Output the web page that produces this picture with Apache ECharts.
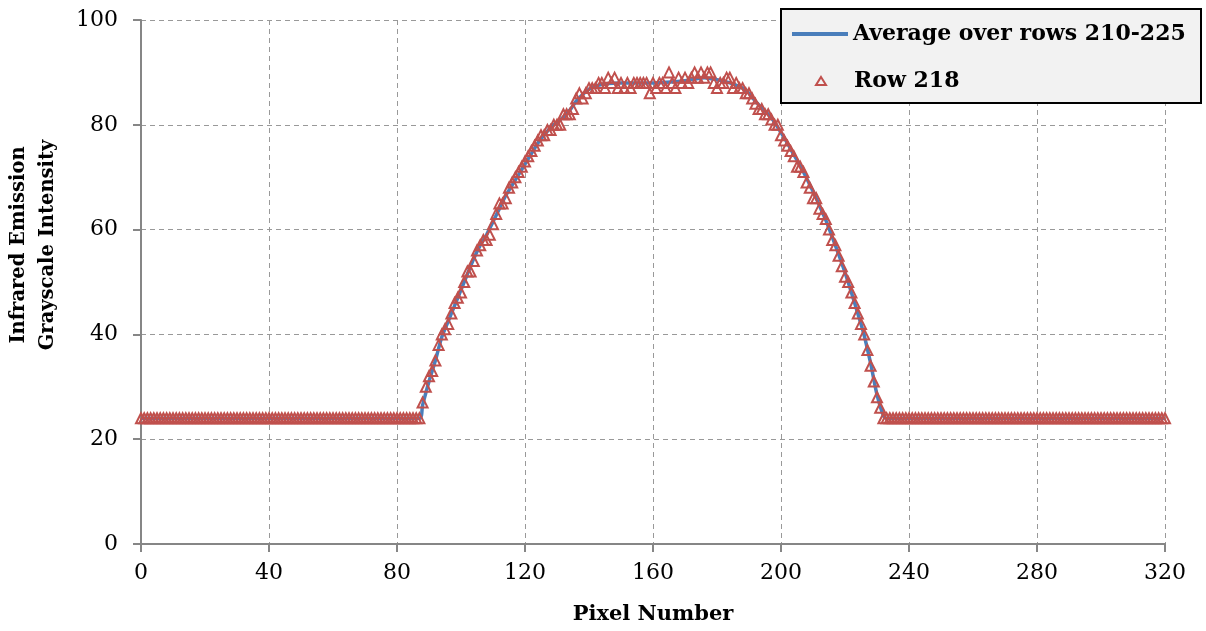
<!DOCTYPE html>
<html>
<head>
<meta charset="utf-8">
<script src="https://cdn.jsdelivr.net/npm/echarts@6/dist/echarts.min.js"></script>
<style>
html,body{margin:0;padding:0;background:#fff;}
#chart{width:1206px;height:631px;}
</style>
</head>
<body>
<div id="chart"></div>
<script>
// Row 218 intensities, pixel 0..320
const row218 = [
24,24,24,24,24,24,24,24,24,24,24,24,24,24,24,24,24,24,24,24,
24,24,24,24,24,24,24,24,24,24,24,24,24,24,24,24,24,24,24,24,
24,24,24,24,24,24,24,24,24,24,24,24,24,24,24,24,24,24,24,24,
24,24,24,24,24,24,24,24,24,24,24,24,24,24,24,24,24,24,24,24,
24,24,24,24,24,24,24,
24,27,30,32,33,35,38,40,41,42,44,46,47,48,50,52,52,54,56,57,
58,58,59,61,63,65,65,66,68,69,70,71,72,73,74,75,76,77,78,78,
79,79,80,80,80,82,82,82,83,85,86,85,86,87,87,87,88,88,87,89,
88,89,87,88,87,88,87,88,88,88,88,88,86,88,87,88,88,87,90,88,
87,89,88,89,88,89,90,89,90,89,90,90,88,87,88,88,89,89,87,88,
87,87,86,86,85,84,83,83,82,82,81,80,80,78,77,76,75,74,72,72,
71,69,68,66,66,64,63,62,60,58,57,55,53,51,50,48,46,44,42,40,
37,34,31,28,26,24,
24,24,24,24,24,24,24,24,24,24,24,24,24,24,24,24,24,24,24,24,
24,24,24,24,24,24,24,24,24,24,24,24,24,24,24,24,24,24,24,24,
24,24,24,24,24,24,24,24,24,24,24,24,24,24,24,24,24,24,24,24,
24,24,24,24,24,24,24,24,24,24,24,24,24,24,24,24,24,24,24,24,
24,24,24,24,24,24,24,24
];
// Average over rows 210-225: [pixel, intensity]
const avgPixels = [0,87,88,90,92,94,96,98,100,102,104,106,108,110,112,114,116,118,120,122,124,126,128,130,132,134,136,138,140,142,146,150,160,170,176,180,184,188,190,192,194,196,198,200,202,204,206,208,210,212,214,216,218,220,222,224,226,228,230,232,233,320];
const avgValues = [24,24,26.5,31,35,39.5,42.5,45.5,48.5,51.5,54.5,57,59,61.5,64,66.5,68.5,70.5,72.5,74.5,76.5,78,79.5,80.5,81.5,82.8,84.5,85.8,86.8,87.4,87.9,88,88,88.4,89,88.6,88,87,86,84.5,83.2,82,80.5,78.5,76.5,74.3,72.2,69.8,67.3,64.6,61.8,58.6,55.3,51.8,48,44,39.8,34.5,28.5,24.5,24,24];
const xTicks = [0,40,80,120,160,200,240,280,320];
const yTicks = [0,20,40,60,80,100];
const seriesNames = ['Average over rows 210-225','Row 218'];

const rowData = row218.map((v,i)=>[i,v]);
const avgData = avgPixels.map((p,i)=>[p,avgValues[i]]);

const FONT = 'DejaVu Serif';
const legendText = {fontFamily:FONT,fontWeight:'bold',fontSize:22,color:'#000'};
const chart = echarts.init(document.getElementById('chart'));
chart.setOption({
  animation:false,
  backgroundColor:'#fff',
  grid:{left:141,right:41,top:20,bottom:87,containLabel:false,outerBoundsMode:'none'},
  graphic:[{
    type:'rect', right:4, top:8, z:100,
    shape:{width:420,height:94},
    style:{fill:'#f2f2f2',stroke:'#000',lineWidth:2}
  }],
  legend:[{
    orient:'vertical', left:792, top:23, z:110,
    padding:0, itemWidth:56, itemHeight:4, itemGap:0,
    icon:'rect',
    textStyle:legendText,
    data:[seriesNames[0]]
  },{
    orient:'vertical', left:792, top:70, z:110,
    padding:0, itemWidth:56, itemHeight:12, itemGap:0,
    icon:'path://M0,0 M56,12 M28,2 L33,10 L23,10 Z', symbolKeepAspect:false,
    textStyle:legendText,
    data:[seriesNames[1]]
  }],
  xAxis:{
    type:'value', min:0, max:320, interval:40,
    name:'Pixel Number', nameLocation:'middle', nameGap:60,
    nameTextStyle:{fontFamily:FONT,fontWeight:'bold',fontSize:21,color:'#000'},
    axisLine:{lineStyle:{color:'#868686',width:2}},
    axisTick:{show:true,length:8,lineStyle:{color:'#868686',width:2}},
    axisLabel:{fontFamily:FONT,fontSize:22,color:'#000',margin:18},
    splitLine:{show:true,lineStyle:{color:'#999',type:[5,4],width:1}}
  },
  yAxis:{
    type:'value', min:0, max:100, interval:20,
    name:'Infrared Emission\nGrayscale Intensity', nameLocation:'middle', nameGap:79, nameRotate:90,
    nameTextStyle:{fontFamily:FONT,fontWeight:'bold',fontSize:19.5,color:'#000',lineHeight:29,padding:[0,0,0,74]},
    axisLine:{show:true,lineStyle:{color:'#868686',width:2}},
    axisTick:{show:true,length:8,lineStyle:{color:'#868686',width:2}},
    axisLabel:{fontFamily:FONT,fontSize:22,color:'#000',margin:23},
    splitLine:{show:true,lineStyle:{color:'#999',type:[5,4],width:1}}
  },
  series:[
    {
      name:seriesNames[0], type:'line', data:avgData,
      smooth:0.3, showSymbol:false, symbol:'none',
      lineStyle:{color:'#4a7ebb',width:3.5},
      itemStyle:{color:'#4a7ebb'}, z:2
    },
    {
      name:seriesNames[1], type:'scatter', data:rowData,
      symbol:'triangle', symbolSize:10,
      itemStyle:{color:'rgba(255,255,255,0)',borderColor:'#c0504d',borderWidth:2, opacity:1},
      z:3
    }
  ]
});
</script>
</body>
</html>
